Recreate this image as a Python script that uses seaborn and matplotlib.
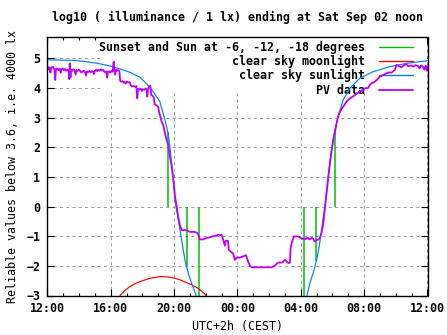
import numpy as np
import pandas as pd
import matplotlib
matplotlib.use("Agg")
import matplotlib.pyplot as plt
import seaborn as sns
from matplotlib.patches import Rectangle
from matplotlib.lines import Line2D

# ---------------- data (hours since Fri 12:00 CEST) ----------------
tick_hours = [0, 4, 8, 12, 16, 20, 24]
tick_labels = ["12:00", "16:00", "20:00", "00:00", "04:00", "08:00", "12:00"]
minor_hours = list(range(25))
y_ticks = [-3, -2, -1, 0, 1, 2, 3, 4, 5]

# clear sky sunlight, evening part
sun_eve_h = [0.0, 1.78, 3.10, 4.16, 5.21, 5.85, 6.48, 7.10, 7.43, 7.63, 7.74,
             7.90, 8.06, 8.27, 8.48, 8.69, 8.90, 9.11, 9.38, 9.45]
sun_eve_v = [4.95, 4.93, 4.84, 4.72, 4.53, 4.36, 4.03, 3.55, 2.92, 2.45, 2.03,
             1.20, 0.22, -0.45, -1.13, -1.80, -2.25, -2.59, -2.98, -3.20]
# clear sky sunlight, morning part
sun_morn_h = [16.33, 16.40, 16.57, 16.78, 17.00, 17.16, 17.31, 17.52, 17.73,
              17.94, 18.15, 18.36, 18.68, 19.10, 19.73, 20.57, 21.62, 22.68, 24.0]
sun_morn_v = [-3.20, -2.98, -2.59, -2.25, -1.80, -1.35, -0.79, 0.00, 1.01,
              1.91, 2.58, 3.05, 3.60, 3.99, 4.33, 4.55, 4.72, 4.83, 4.92]

# clear sky moonlight
moon_h = [4.59, 4.90, 5.22, 5.50, 5.85, 6.48, 7.11, 7.74, 8.37, 9.00, 9.53, 9.95, 10.02]
moon_v = [-3.00, -2.83, -2.70, -2.61, -2.53, -2.42, -2.36, -2.38, -2.47, -2.61,
          -2.76, -2.95, -3.00]

# sunset / sunrise and sun at -6, -12, -18 degrees
twilight_h = [7.63, 8.84, 9.59, 16.21, 16.96, 18.16]
twilight_v = [2.53, -2.00, -3.00, -3.00, -1.85, 2.60]

# PV data
pv_h = [0.00, 0.05, 0.10, 0.15, 0.20, 0.25, 0.30, 0.38, 0.45, 0.50, 0.55, 0.62,
        0.70, 0.78, 0.85, 0.90, 0.98, 1.05, 1.12, 1.20, 1.28, 1.35, 1.38, 1.42,
        1.46, 1.50, 1.58, 1.65, 1.72, 1.79, 1.85, 1.92, 2.00, 2.08, 2.15, 2.22,
        2.30, 2.38, 2.45, 2.50, 2.58, 2.66, 2.74, 2.82, 2.90, 2.95, 3.00, 3.08,
        3.15, 3.22, 3.30, 3.38, 3.45, 3.52, 3.60, 3.68, 3.74, 3.78, 3.82, 3.90,
        3.98, 4.05, 4.12, 4.19, 4.23, 4.28, 4.33, 4.40, 4.47, 4.55, 4.60, 4.67,
        4.75, 4.82, 4.88, 4.95, 5.02, 5.10, 5.20, 5.28, 5.36, 5.45, 5.55, 5.62,
        5.68, 5.73, 5.82, 5.90, 5.97, 6.03, 6.12, 6.20, 6.27, 6.31, 6.36, 6.43,
        6.50, 6.56, 6.64, 6.72, 6.78, 6.88, 7.00, 7.05, 7.11, 7.22, 7.32, 7.43,
        7.53, 7.63, 7.74, 7.84, 7.95, 8.01, 8.06, 8.16, 8.26, 8.37, 8.48, 8.60,
        8.75, 8.90, 9.05, 9.25, 9.45, 9.53, 9.63, 9.82, 9.95, 10.16, 10.30, 10.45,
        10.60, 10.71, 10.80, 10.90, 11.00, 11.10, 11.21, 11.27, 11.40, 11.46,
        11.55, 11.63, 11.72, 11.84, 11.95, 12.16, 12.37, 12.54, 12.68, 12.79,
        12.90, 13.50, 14.16, 14.37, 14.56, 14.81, 15.00, 15.20, 15.31, 15.36,
        15.44, 15.57, 15.84, 16.05, 16.26, 16.40, 16.57, 16.70, 16.78, 16.88,
        16.95, 17.10, 17.20, 17.31, 17.41, 17.52, 17.63, 17.73, 17.84, 17.94,
        18.05, 18.15, 18.26, 18.36, 18.47, 18.58, 18.68, 18.89, 19.10, 19.25,
        19.41, 19.57, 19.73, 19.90, 20.05, 20.25, 20.35, 20.47, 20.67, 20.85,
        20.99, 21.20, 21.35, 21.51, 21.73, 21.94, 22.04, 22.20, 22.35, 22.50,
        22.65, 22.80, 22.95, 23.10, 23.25, 23.40, 23.50, 23.60, 23.70, 23.80,
        23.88, 23.95, 24.00]
pv_v = [4.72, 4.62, 4.70, 4.66, 4.52, 4.70, 4.68, 4.71, 4.62, 4.27, 4.64, 4.66,
        4.60, 4.65, 4.52, 4.63, 4.66, 4.60, 4.64, 4.58, 4.62, 4.55, 4.30, 4.83,
        4.35, 4.62, 4.58, 4.63, 4.60, 4.45, 4.61, 4.58, 4.62, 4.57, 4.52, 4.56,
        4.58, 4.53, 4.42, 4.56, 4.54, 4.57, 4.53, 4.57, 4.55, 4.47, 4.58, 4.62,
        4.57, 4.61, 4.58, 4.63, 4.59, 4.61, 4.55, 4.52, 4.56, 4.35, 4.54, 4.56,
        4.52, 4.58, 4.55, 4.89, 4.60, 4.45, 4.62, 4.58, 4.61, 4.56, 4.25, 4.21,
        4.23, 4.18, 4.21, 4.15, 4.21, 4.19, 4.20, 4.08, 4.05, 4.07, 4.04, 4.07,
        3.65, 3.97, 3.95, 3.98, 3.90, 3.96, 3.94, 3.98, 3.95, 3.71, 3.98, 4.04,
        4.08, 3.76, 3.74, 3.68, 3.45, 3.42, 3.37, 3.20, 3.09, 2.86, 2.75, 2.47,
        2.25, 2.08, 1.68, 1.40, 0.95, 0.67, 0.33, 0.05, -0.34, -0.62, -0.79, -0.80,
        -0.79, -0.83, -0.86, -0.85, -0.88, -0.95, -1.11, -1.11, -1.08, -1.05, -1.03, -1.00,
        -0.99, -0.97, -0.95, -0.97, -0.95, -1.11, -1.32, -1.15, -1.15, -1.47,
        -1.50, -1.55, -1.57, -1.80, -1.72, -1.72, -1.68, -1.64, -1.86, -1.99,
        -2.05, -2.05, -2.05, -1.99, -1.89, -1.89, -1.80, -1.90, -1.90, -1.41,
        -1.19, -1.01, -1.01, -1.07, -1.11, -1.05, -1.11, -1.05, -1.08, -1.18,
        -1.14, -1.11, -1.07, -0.90, -0.62, -0.10, 0.45, 0.95, 1.45, 1.85,
        2.25, 2.50, 2.80, 3.03, 3.20, 3.30, 3.37, 3.54, 3.65, 3.70,
        3.76, 3.82, 3.88, 3.93, 3.99, 4.00, 4.10, 4.16, 4.21, 4.30,
        4.38, 4.44, 4.48, 4.52, 4.52, 4.61, 4.78, 4.74, 4.70, 4.76,
        4.80, 4.73, 4.76, 4.72, 4.77, 4.74, 4.66, 4.76, 4.73, 4.62,
        4.75, 4.58, 4.73]

title = "log10 ( illuminance / 1 lx) ending at Sat Sep 02 noon"
xlabel = "UTC+2h (CEST)"
ylabel = "Reliable values below 3.6, i.e. 4000 lx"
legend_labels = ["Sunset and Sun at -6, -12, -18 degrees", "clear sky moonlight",
                 "clear sky sunlight", "PV data"]

GREEN, RED, BLUE, PURPLE = "#00c000", "#ff0000", "#0080ff", "#c000ff"

# ---------------- style ----------------
sns.set_theme(style="white")
plt.rcParams['font.family'] = ['DejaVu Sans Mono', 'DejaVu Sans']
plt.rcParams['font.weight'] = 'bold'
for k in ['text.color', 'axes.labelcolor', 'xtick.color', 'ytick.color']:
    plt.rcParams[k] = 'black'
FS = 8.35

W, H = 447, 335
L, R, T, B = 47.3, 427.5, 37.3, 295.5
fig = plt.figure(figsize=(W / 100, H / 100), dpi=100)
ax = fig.add_axes([L / W, 1 - B / H, (R - L) / W, (B - T) / H])

# ---------------- marks ----------------
ax.vlines(twilight_h, 0, twilight_v, colors=GREEN, linewidth=1.1, zorder=2)
sns.lineplot(x=moon_h, y=moon_v, ax=ax, color=RED, linewidth=0.85,
             sort=False, estimator=None, zorder=2)
sns.lineplot(x=sun_eve_h, y=sun_eve_v, ax=ax, color=BLUE, linewidth=0.85,
             sort=False, estimator=None, zorder=2)
sns.lineplot(x=sun_morn_h, y=sun_morn_v, ax=ax, color=BLUE, linewidth=0.85,
             sort=False, estimator=None, zorder=2)
sns.lineplot(x=pv_h, y=pv_v, ax=ax, color=PURPLE, linewidth=1.3,
             sort=False, estimator=None, zorder=2.1)

handles = [Line2D([], [], color=GREEN, linewidth=1.0),
           Line2D([], [], color=RED, linewidth=1.0),
           Line2D([], [], color=BLUE, linewidth=1.0),
           Line2D([], [], color=PURPLE, linewidth=1.3)]

# ---------------- axes ----------------
ax.set_xlim(0, 24)
ax.set_ylim(-3, 5.71)
ax.set_xticks(tick_hours)
ax.set_xticklabels(tick_labels)
ax.set_xticks(minor_hours, minor=True)
ax.set_yticks(y_ticks)
ax.tick_params(which='both', direction='in', top=True, right=True, bottom=True,
               left=True, labelsize=FS, width=0.8, color='black')
ax.tick_params(which='major', length=5, pad=5)
ax.tick_params(which='minor', length=2.5)
for s in ax.spines.values():
    s.set_visible(True)
    s.set_color('black')
    s.set_linewidth(1.0)

ax.set_axisbelow(True)
ax.grid(True, which='major', color='#a0a0a0', linestyle=(0, (3, 3)), linewidth=0.75)

# opaque key area
ax.add_patch(Rectangle((0.1385, 0.787), 1 - 0.1385, 1 - 0.787, transform=ax.transAxes,
                       facecolor='white', edgecolor='none', zorder=1))
leg = ax.legend(handles, legend_labels, loc='upper right', bbox_to_anchor=(0.961, 0.9857),
                frameon=False, markerfirst=False, handlelength=2.9, handletextpad=1.2,
                labelspacing=0.1, borderpad=0, borderaxespad=0,
                prop={'size': FS, 'weight': 'bold', 'family': 'DejaVu Sans Mono'})
leg.set_zorder(1.5)

ax.set_xlabel(xlabel, fontsize=FS)
ax.xaxis.label.set_va('center')
ax.xaxis.set_label_coords(0.5, (B - 326.7) / (B - T))
ax.set_ylabel(ylabel, fontsize=FS)
ax.yaxis.label.set_va('center')
ax.yaxis.set_label_coords((12.5 - L) / (R - L), 0.5)

fig.text(237.5 / W, 1 - 17.3 / H, title, ha='center', va='center', fontsize=FS)

fig.savefig('out.png', dpi=100)
